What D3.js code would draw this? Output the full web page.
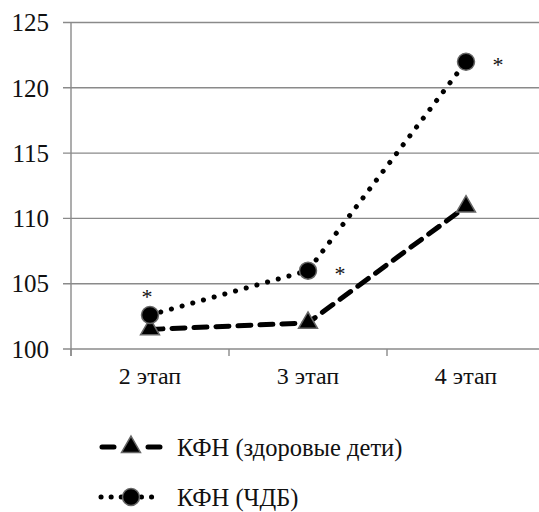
<!DOCTYPE html>
<html><head><meta charset="utf-8">
<script src="https://cdn.jsdelivr.net/npm/d3@7"></script>
<style>html,body{margin:0;padding:0;background:#fff;}svg{display:block;}</style>
</head><body>
<svg id="c" width="539" height="512"></svg>
<script>
const categories = ["2 этап", "3 этап", "4 этап"];
const healthy = [101.5, 102.0, 110.9];
const sickly = [102.6, 106.0, 122.0];
const seriesNames = ["КФН (здоровые дети)", "КФН (ЧДБ)"];
const yTicks = [100, 105, 110, 115, 120, 125];
const asteriskSide = ["top", "right", "right"];

(function () {
const svg = d3.select("#c");
const pLeft = 71, pRight = 545, pTop = 22.5, pBottom = 349;
const x = d3.scalePoint().domain(categories).range([pLeft, pRight]).padding(0.5);
const step = x.step();
const y = d3.scaleLinear().domain([100, 125]).range([pBottom, pTop]);
const grid = "#8a8a8a";

function label(px, py, size, str, anchor, dy) {
  return svg.append("text").attr("x", px).attr("y", py).attr("font-size", size)
    .attr("font-family", "'Liberation Serif', 'Times New Roman', serif")
    .attr("text-anchor", anchor).attr("dy", dy).attr("fill", "#111").text(str);
}

svg.append("g").selectAll("line").data(yTicks).join("line")
  .attr("x1", pLeft - 8).attr("x2", pRight).attr("y1", d => y(d)).attr("y2", d => y(d))
  .attr("stroke", grid).attr("stroke-width", 1.4);
svg.append("line").attr("x1", pLeft).attr("x2", pLeft).attr("y1", pTop).attr("y2", pBottom + 7)
  .attr("stroke", grid).attr("stroke-width", 1.4);
svg.append("g").selectAll("line").data(d3.range(categories.length + 1)).join("line")
  .attr("x1", i => pLeft + i * step).attr("x2", i => pLeft + i * step)
  .attr("y1", pBottom).attr("y2", pBottom + 7).attr("stroke", grid).attr("stroke-width", 1.4);

yTicks.forEach(t => label(49, y(t), 25, String(t), "end", "0.35em"));
categories.forEach(c => label(x(c), 384, 24, c, "middle", "0"));

const line = d3.line().x((d, i) => x(categories[i])).y(d => y(d));

svg.append("path").datum(sickly).attr("d", line).attr("fill", "none").attr("stroke", "#000")
  .attr("stroke-width", 5).attr("stroke-linecap", "round").attr("stroke-linejoin", "round").attr("stroke-dasharray", "0.1 11");
svg.append("path").datum(healthy).attr("d", line).attr("fill", "none").attr("stroke", "#000")
  .attr("stroke-width", 5).attr("stroke-linecap", "round").attr("stroke-linejoin", "round").attr("stroke-dasharray", "13 9");

const tri = d3.symbol().type(d3.symbolTriangle).size(155);
function triangleAt(g, cx, cy) {
  g.append("path").attr("d", tri()).attr("transform", `translate(${cx},${cy})`)
    .attr("fill", "#000").attr("stroke", "#666").attr("stroke-width", 1.5);
}
function circleAt(g, cx, cy) {
  g.append("circle").attr("cx", cx).attr("cy", cy).attr("r", 8.5)
    .attr("fill", "#000").attr("stroke", "#666").attr("stroke-width", 1.5);
}
const mk = svg.append("g");
healthy.forEach((v, i) => triangleAt(mk, x(categories[i]), y(v)));
sickly.forEach((v, i) => circleAt(mk, x(categories[i]), y(v)));

sickly.forEach((v, i) => {
  const side = asteriskSide[i];
  const cx = x(categories[i]) + (side === "right" ? 32 : -3);
  const cy = y(v) + (side === "right" ? -3 : -24);
  label(cx, cy, 22, "*", "middle", "0.6em");
});

const lg = svg.append("g");
const legY = [447, 497];
lg.append("line").attr("x1", 102).attr("x2", 160).attr("y1", legY[0]).attr("y2", legY[0])
  .attr("stroke", "#000").attr("stroke-width", 5).attr("stroke-linecap", "round").attr("stroke-dasharray", "12 34");
triangleAt(lg, 131, legY[0]);
lg.append("line").attr("x1", 101).attr("x2", 161).attr("y1", legY[1]).attr("y2", legY[1])
  .attr("stroke", "#000").attr("stroke-width", 5).attr("stroke-linecap", "round").attr("stroke-dasharray", "0.1 10");
circleAt(lg, 131, legY[1]);
seriesNames.forEach((n, i) => label(177, legY[i], 24.5, n, "start", "0.35em"));
})();
</script>
</body></html>
